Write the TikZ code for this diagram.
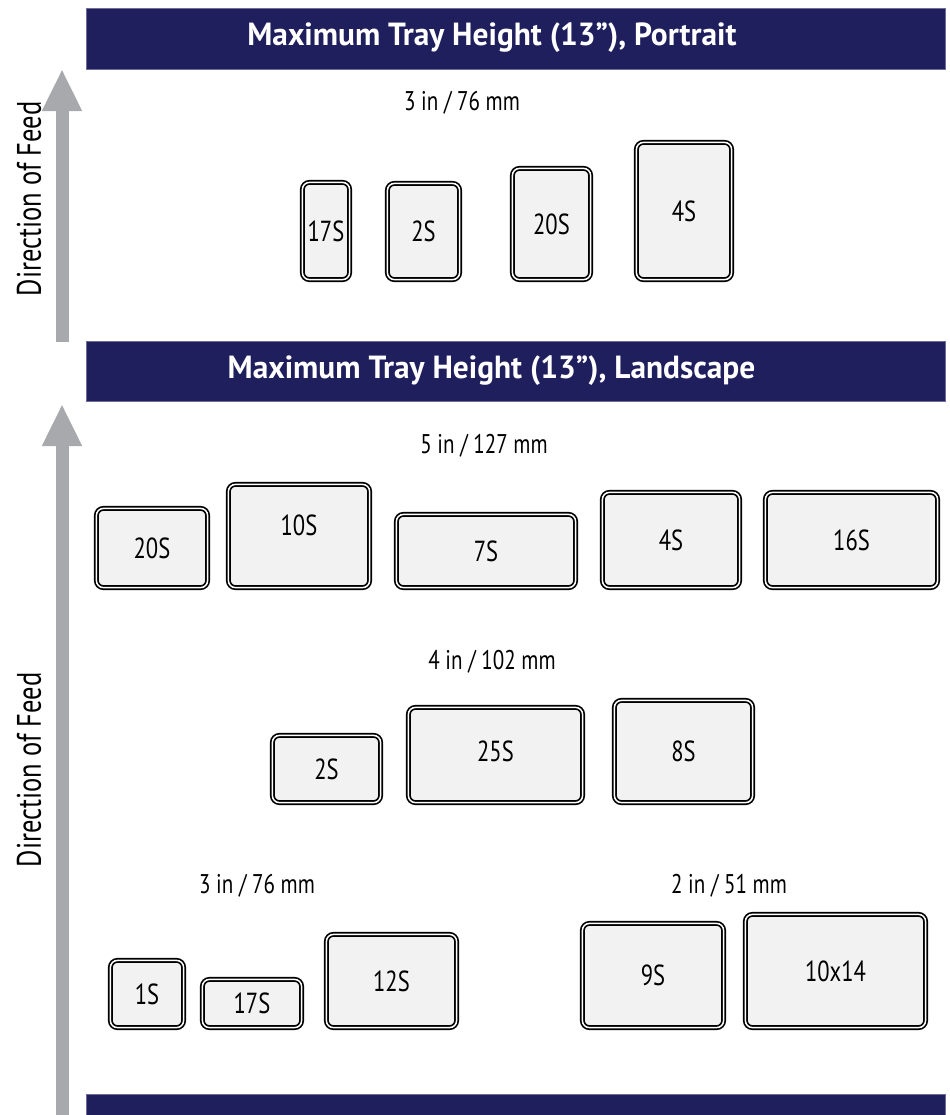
\documentclass[tikz,border=0pt]{standalone}
\usepackage{fontspec}
\setmainfont{PT Sans}[FakeStretch=0.78]
\newfontfamily\headfont{PT Sans}[FakeStretch=0.98]
\usetikzlibrary{arrows.meta}
\definecolor{navy}{HTML}{201F5E}
\definecolor{bandedge}{HTML}{6E6D9A}
\definecolor{feedgray}{HTML}{A7A9AC}
\definecolor{trayfill}{HTML}{F2F2F2}

\begin{document}
\begin{tikzpicture}[
    x=0.5pt, y=-0.5pt,
    band/.style={rectangle, fill=navy, draw=bandedge, line width=0.4pt, inner sep=0pt},
    head/.style={text=white, font=\headfont\bfseries\fontsize{16}{18}\selectfont},
    size_label/.style={font=\fontsize{13.5}{16}\selectfont},
    tray/.style={rectangle, rounded corners=3.5pt, draw=black, double=white, double distance=0.75pt,
        line width=0.85pt, fill=trayfill, inner sep=0pt, font=\fontsize{14.5}{16}\selectfont},
    feed/.style={-{Triangle[width=18.5pt, length=21pt]}, line width=6.5pt, draw=feedgray},
    feed_label/.style={rotate=90, font=\fontsize{17}{19}\selectfont}
]
    \useasboundingbox (0,0) rectangle (949,1115);

    % bands
    \node[band, minimum width=429.5pt, minimum height=30.5pt] (b1) at (515.5,38.5) {};
    \node[band, minimum width=429.5pt, minimum height=30pt] (b2) at (515.5,371) {};
    \node[band, minimum width=429.5pt, minimum height=10.5pt] (b3) at (515.5,1105) {};
    \node[head] (h1) at (492,38) {Maximum Tray Height (13”), Portrait};
    \node[head] (h2) at (491.5,371) {Maximum Tray Height (13”), Landscape};

    % direction of feed
    \coordinate (f1s) at (62,342);
    \coordinate (f1e) at (62,69);
    \coordinate (f2s) at (62,1115);
    \coordinate (f2e) at (62,404);
    \draw[feed] (f1s) -- (f1e);
    \draw[feed] (f2s) -- (f2e);
    \node[feed_label] (d1) at (29,199) {Direction of Feed};
    \node[feed_label] (d2) at (29,770) {Direction of Feed};

    % portrait
    \node[size_label] (l1) at (462,103) {3 in / 76 mm};
    \node[tray, minimum width=23.6pt, minimum height=48.6pt] (p17S) at (326,231) {17S};
    \node[tray, minimum width=36.1pt, minimum height=48.1pt] (p2S) at (423.5,231.5) {2S};
    \node[tray, minimum width=39.1pt, minimum height=55.6pt] (p20S) at (551.5,224) {20S};
    \node[tray, minimum width=47.6pt, minimum height=68.6pt] (p4S) at (684,211) {4S};

    % landscape, 5 in
    \node[size_label] (l2) at (484,446) {5 in / 127 mm};
    \node[tray, minimum width=55.6pt, minimum height=39.6pt] (q20S) at (152,548) {20S};
    \node[tray, minimum width=70.6pt, minimum height=51.6pt] (q10S) at (299,536) {};
    \node (q10St) at (299,525) [font=\fontsize{14.5}{16}\selectfont] {10S};
    \node[tray, minimum width=89.6pt, minimum height=36.6pt] (q7S) at (486,551) {7S};
    \node[tray, minimum width=68.6pt, minimum height=47.6pt] (q4S) at (671,540) {4S};
    \node[tray, minimum width=86.1pt, minimum height=47.6pt] (q16S) at (851.5,540) {16S};

    % landscape, 4 in
    \node[size_label] (l3) at (492,662) {4 in / 102 mm};
    \node[tray, minimum width=54.1pt, minimum height=33.6pt] (r2S) at (326.5,769) {2S};
    \node[tray, minimum width=87.1pt, minimum height=47.6pt] (r25S) at (495.5,755) {};
    \node (r25St) at (495.5,751) [font=\fontsize{14.5}{16}\selectfont] {25S};
    \node[tray, minimum width=69.1pt, minimum height=51.1pt] (r8S) at (683.5,751.5) {8S};

    % landscape, 3 in and 2 in
    \node[size_label] (l4) at (257,886) {3 in / 76 mm};
    \node[size_label] (l5) at (729,886) {2 in / 51 mm};
    \node[tray, minimum width=36.6pt, minimum height=33.6pt] (s1S) at (147,994) {1S};
    \node[tray, minimum width=49.6pt, minimum height=24.1pt] (s17S) at (252,1003.5) {17S};
    \node[tray, minimum width=65.1pt, minimum height=46.6pt] (s12S) at (391.5,981) {12S};
    \node[tray, minimum width=70.6pt, minimum height=52.1pt] (s9S) at (653,975.5) {9S};
    \node[tray, minimum width=90.1pt, minimum height=56.6pt] (s10x14) at (835.5,971) {10x14};

\end{tikzpicture}
\end{document}
